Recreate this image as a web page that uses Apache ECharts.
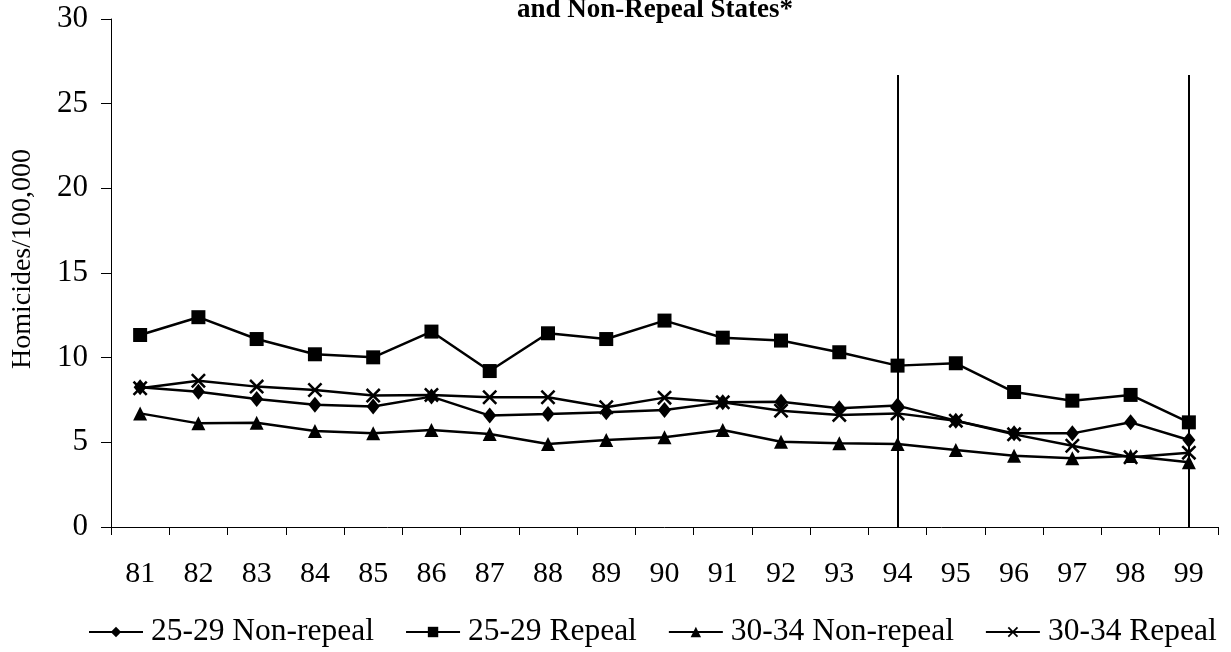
<!DOCTYPE html>
<html><head><meta charset="utf-8">
<script src="https://cdn.jsdelivr.net/npm/echarts@6/dist/echarts.min.js"></script>
<style>html,body{margin:0;padding:0;background:#fff}#c{width:1231px;height:652px}</style>
</head><body><div id="c"></div>
<script>
const years = ['81','82','83','84','85','86','87','88','89','90','91','92','93','94','95','96','97','98','99'];
const nonRepeal2529 = [8.25,7.99,7.56,7.22,7.11,7.70,6.58,6.67,6.77,6.91,7.36,7.40,7.01,7.17,6.28,5.53,5.53,6.18,5.14];
const repeal2529 = [11.34,12.39,11.10,10.20,10.02,11.54,9.21,11.44,11.10,12.19,11.18,11.01,10.32,9.53,9.67,7.97,7.46,7.80,6.18];
const nonRepeal3034 = [6.71,6.12,6.16,5.67,5.53,5.73,5.49,4.90,5.14,5.30,5.73,5.04,4.94,4.90,4.55,4.21,4.06,4.19,3.82];
const repeal3034 = [8.19,8.64,8.29,8.09,7.76,7.80,7.66,7.66,7.07,7.64,7.36,6.87,6.62,6.71,6.28,5.47,4.80,4.12,4.39];
const seriesNames = ['25-29 Non-repeal','25-29 Repeal','30-34 Non-repeal','30-34 Repeal'];
const markYears = ['94','99'];
const markTop = 26.7;

const font = '"Liberation Serif","Times New Roman",serif';
const xSym = 'path://M0,1.2L1.2,0L5,3.8L8.8,0L10,1.2L6.2,5L10,8.8L8.8,10L5,6.2L1.2,10L0,8.8L3.8,5Z';
function mk(name, data, symbol, size) {
  return {
    name, type: 'line', data, symbol, symbolSize: size,
    lineStyle: { color: '#000', width: 2.5 },
    itemStyle: { color: '#000' },
    animation: false
  };
}
const series = [
  mk(seriesNames[0], nonRepeal2529, 'diamond', [13,16]),
  mk(seriesNames[1], repeal2529, 'rect', 14),
  mk(seriesNames[2], nonRepeal3034, 'triangle', 14),
  mk(seriesNames[3], repeal3034, xSym, 15)
];
series[0].markLine = {
  silent: true, symbol: ['none','none'], label: { show: false },
  lineStyle: { color: '#000', width: 2, type: 'solid' },
  data: markYears.map(y => [{ coord: [y, 0] }, { coord: [y, markTop] }])
};
const chart = echarts.init(document.getElementById('c'));
chart.setOption({
  backgroundColor: '#fff',
  animation: false,
  title: {
    text: 'and Non-Repeal States*', left: 650, textAlign: 'center', top: -8,
    textStyle: { fontFamily: font, fontWeight: 'bold', fontSize: 27, color: '#000' }
  },
  grid: { left: 111, right: 13, top: 19, bottom: 125, outerBoundsMode: 'none', containLabel: false },
  xAxis: {
    type: 'category', data: years, boundaryGap: true,
    axisLine: { lineStyle: { color: '#000', width: 1 } },
    axisTick: { show: true, inside: false, length: 8, lineStyle: { color: '#000' } },
    axisLabel: { fontFamily: font, fontSize: 30, color: '#000', margin: 32 }
  },
  yAxis: {
    type: 'value', min: 0, max: 30, interval: 5,
    name: 'Homicides/100,000', nameLocation: 'middle', nameGap: 74, nameRotate: 90,
    nameTextStyle: { fontFamily: font, fontSize: 28, color: '#000', padding: [0, 0, 0, 28] },
    splitLine: { show: false },
    axisLine: { show: true, lineStyle: { color: '#000', width: 1 } },
    axisTick: { show: true, length: 10, lineStyle: { color: '#000' } },
    axisLabel: { fontFamily: font, fontSize: 31, color: '#000', margin: 23 }
  },
  legend: {
    data: seriesNames, top: 616, left: 88, width: 1143, padding: 0,
    itemWidth: 54, itemHeight: 13, itemGap: 31,
    textStyle: { fontFamily: font, fontSize: 31.5, color: '#000', padding: [0, 0, 0, 3] }
  },
  series
});
</script></body></html>
